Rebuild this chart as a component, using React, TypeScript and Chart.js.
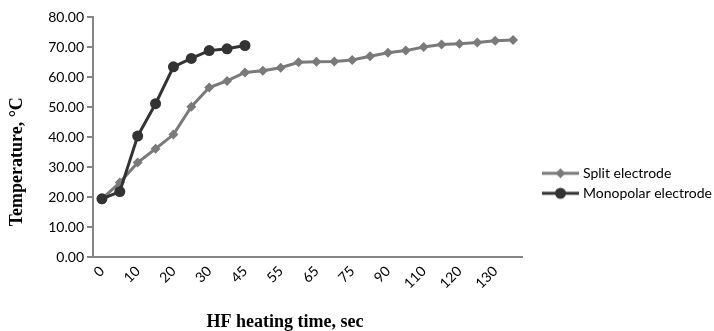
import React, { useEffect, useRef } from 'react';
import { Chart, registerables } from 'chart.js';

Chart.register(...registerables);

const categories = ['0', '5', '10', '15', '20', '25', '30', '40', '45', '50', '55', '60', '65', '70', '75', '85', '90', '100', '110', '115', '120', '125', '130', '135'];

const splitValues = [19.4, 24.8, 31.5, 36.1, 40.8, 50.1, 56.5, 58.7, 61.5, 62.1, 63.1, 64.9, 65.1, 65.2, 65.7, 66.9, 68.1, 68.8, 70.0, 70.8, 71.1, 71.5, 72.1, 72.3];

const monopolarValues = [19.4, 21.8, 40.3, 51.1, 63.4, 66.2, 68.8, 69.4, 70.5, null, null, null, null, null, null, null, null, null, null, null, null, null, null, null];

const yTicks = { min: 0, max: 80, step: 10 };

const SPLIT_COLOR = '#7a7a7a';
const MONO_COLOR = '#333333';
const AXIS_COLOR = '#868686';
const LABEL_FONT = 'Lato';
const TITLE_FONT = 'Liberation Serif';
const NB = '\u00A0';
const PLOT_RIGHT = 522;
const VIEW_W = 714;
const VIEW_H = 331;
const CANVAS_W = 740;

function makeSample(color: string, style: 'circle' | 'diamond') {
  const c = document.createElement('canvas');
  c.width = 64;
  c.height = 14;
  const ctx = c.getContext('2d')!;
  ctx.strokeStyle = color;
  ctx.lineWidth = 3;
  ctx.beginPath();
  ctx.moveTo(22, 7);
  ctx.lineTo(59, 7);
  ctx.stroke();
  ctx.fillStyle = color;
  ctx.beginPath();
  if (style === 'circle') {
    ctx.arc(40.5, 7, 5.5, 0, Math.PI * 2);
  } else {
    ctx.moveTo(40.5, 2);
    ctx.lineTo(45.5, 7);
    ctx.lineTo(40.5, 12);
    ctx.lineTo(35.5, 7);
    ctx.closePath();
  }
  ctx.fill();
  return c;
}

export default function App() {
  const ref = useRef<HTMLCanvasElement | null>(null);

  useEffect(() => {
    if (!ref.current) return;
    const samples = [makeSample(SPLIT_COLOR, 'diamond'), makeSample(MONO_COLOR, 'circle')];

    const chart = new Chart(ref.current, {
      type: 'line',
      data: {
        labels: categories,
        datasets: [
          {
            label: 'Split electrode',
            data: splitValues,
            borderColor: SPLIT_COLOR,
            backgroundColor: SPLIT_COLOR,
            borderWidth: 3,
            pointStyle: 'rectRot',
            pointRadius: 5,
            pointBorderWidth: 0,
            pointBackgroundColor: SPLIT_COLOR,
            tension: 0,
            order: 1,
          },
          {
            label: 'Monopolar electrode',
            data: monopolarValues,
            borderColor: MONO_COLOR,
            backgroundColor: MONO_COLOR,
            borderWidth: 3,
            pointStyle: 'circle',
            pointRadius: 5.5,
            pointBorderWidth: 0,
            pointBackgroundColor: MONO_COLOR,
            tension: 0,
            spanGaps: false,
            order: 0,
          },
        ],
      },
      options: {
        animation: false,
        responsive: false,
        devicePixelRatio: 1,
        layout: { padding: { top: 17, right: 0, bottom: 0, left: 0 } },
        plugins: {
          tooltip: { enabled: false },
          legend: {
            position: 'right',
            align: 'start',
            maxWidth: 400,
            title: { display: true, text: '', padding: { top: 128.9, bottom: 0 }, font: { size: 12, lineHeight: 1.2 } },
            labels: {
              font: { family: LABEL_FONT, size: 14 },
              color: '#000',
              usePointStyle: true,
              pointStyleWidth: 48,
              padding: 6,
              sort: (a: any, b: any) => a.datasetIndex - b.datasetIndex,
              generateLabels: (ch: any) => {
                const items = Chart.defaults.plugins.legend.labels.generateLabels(ch);
                return items.map((it: any) => ({ ...it, pointStyle: samples[it.datasetIndex], lineWidth: 0 }));
              },
            },
          },
        },
        scales: {
          x: {
            type: 'category',
            offset: true,
            grid: { display: false, drawTicks: false },
            border: { display: true, color: AXIS_COLOR, width: 2 },
            ticks: {
              autoSkip: false,
              maxRotation: 45,
              minRotation: 45,
              padding: 6,
              color: '#000',
              font: { family: LABEL_FONT, size: 14 },
              callback: (_v: any, i: number) => (i % 2 === 0 ? categories[i] : ''),
            },
            title: {
              display: true,
              text: 'HF heating time, sec' + NB.repeat(10),
              color: '#000',
              font: { family: TITLE_FONT, size: 18, weight: 'bold', lineHeight: 1 },
              padding: { top: 0, bottom: 0 },
            },
            afterFit: (s: any) => {
              s.height = 74;
            },
          },
          y: {
            min: yTicks.min,
            max: yTicks.max,
            ticks: {
              stepSize: yTicks.step,
              padding: 3,
              color: '#000',
              font: { family: LABEL_FONT, size: 14 },
              callback: (v: any) => Number(v).toFixed(2),
            },
            grid: { display: true, drawOnChartArea: false, drawTicks: true, tickLength: 6, color: AXIS_COLOR, lineWidth: 2 },
            border: { display: true, color: AXIS_COLOR, width: 2 },
            title: {
              display: true,
              text: 'Temperature, °C' + NB.repeat(11),
              color: '#000',
              font: { family: TITLE_FONT, size: 18, weight: 'bold', lineHeight: 1 },
              padding: { top: 8, bottom: 0 },
            },
            afterFit: (s: any) => {
              s.width = 93;
            },
          },
        },
      },
    });

    // Align the plot's right edge with the reference by adjusting layout padding.
    for (let k = 0; k < 4; k++) {
      const dx = PLOT_RIGHT - chart.chartArea.right;
      if (Math.abs(dx) < 0.5) break;
      const pad: any = (chart.options.layout as any).padding;
      const next = Math.max(0, (pad.right || 0) - dx);
      if (next === pad.right) break;
      pad.right = next;
      chart.update();
    }

    return () => chart.destroy();
  }, []);

  return (
    <div style={{ position: 'absolute', left: 0, top: 0, width: VIEW_W, height: VIEW_H, overflow: 'hidden' }}>
      <canvas ref={ref} width={CANVAS_W} height={VIEW_H} style={{ display: 'block', width: CANVAS_W, height: VIEW_H }} />
    </div>
  );
}
